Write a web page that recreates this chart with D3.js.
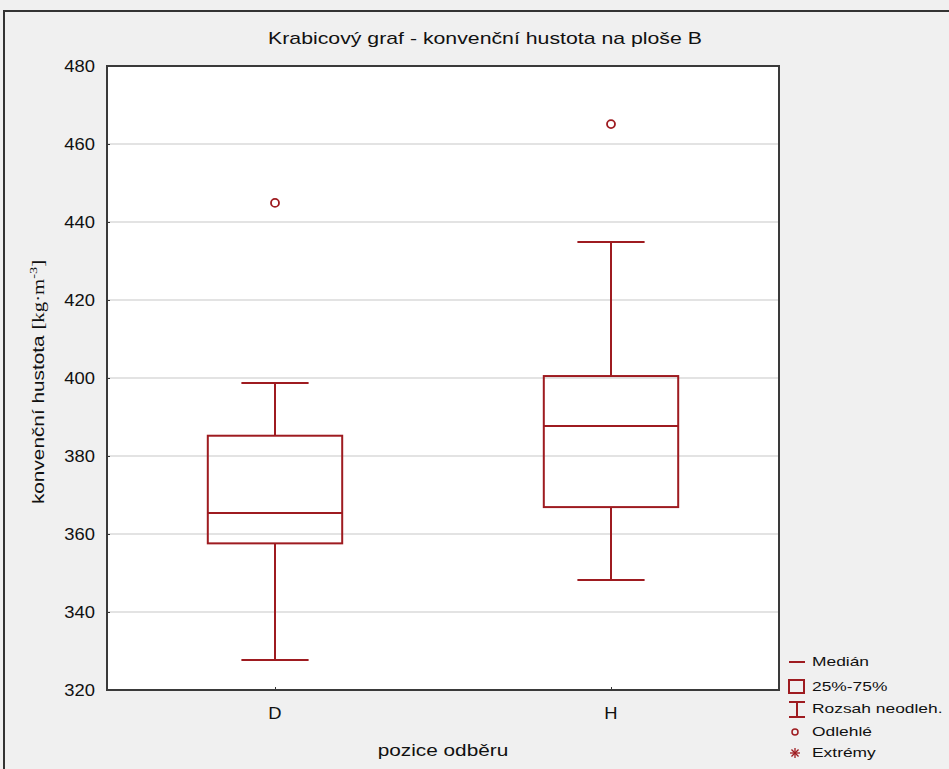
<!DOCTYPE html>
<html>
<head>
<meta charset="utf-8">
<script src="https://cdnjs.cloudflare.com/ajax/libs/d3/7.8.5/d3.min.js"></script>
<style>
  body { margin: 0; background: #f0f0f0; }
  text { font-family: "Liberation Sans", Arial, sans-serif; fill: #111; }
</style>
</head>
<body>
<svg id="chart" width="949" height="769"></svg>
<script>
// data
const categories = ["D", "H"];
const whiskerLow = [327.7, 348.2];
const q1 = [357.6, 366.9];
const median = [365.4, 387.7];
const q3 = [385.2, 400.5];
const whiskerHigh = [398.7, 434.9];
const outliers = [[444.9], [465.1]];
const yTicks = [320, 340, 360, 380, 400, 420, 440, 460, 480];
const legendLabels = ["Medián", "25%-75%", "Rozsah neodleh.", "Odlehlé", "Extrémy"];

const red = "#9e1b20";
const svg = d3.select("#chart");

const plot = { left: 107, top: 66, right: 779, bottom: 690 };

const x = d3.scalePoint()
    .domain(categories)
    .range([plot.left, plot.right])
    .padding(0.5);

const y = d3.scaleLinear()
    .domain([320, 480])
    .range([plot.bottom, plot.top]);

const step = x.step();
const boxW = step * 0.4;
const capW = step * 0.2;

// stretched text like the source image
function label(g, px, py, str, size, anchor, sx) {
    return g.append("text")
        .attr("transform", `translate(${px},${py}) scale(${sx || 1.2},1)`)
        .attr("text-anchor", anchor || "middle")
        .attr("font-size", size)
        .text(str);
}

// outer frame
svg.append("path")
    .attr("d", "M4,769 V11 H949")
    .attr("fill", "none")
    .attr("stroke", "#333")
    .attr("stroke-width", 2);

// plot background
svg.append("rect")
    .attr("x", plot.left).attr("y", plot.top)
    .attr("width", plot.right - plot.left).attr("height", plot.bottom - plot.top)
    .attr("fill", "#fff");

// grid
svg.append("g").selectAll("line")
    .data(yTicks.slice(1, -1))
    .join("line")
    .attr("x1", plot.left).attr("x2", plot.right)
    .attr("y1", d => y(d)).attr("y2", d => y(d))
    .attr("stroke", "#dadada")
    .attr("stroke-width", 1.5);

// axes (ticks inward)
const yAxis = svg.append("g")
    .attr("transform", `translate(${plot.left},0)`)
    .call(d3.axisLeft(y).tickValues(yTicks).tickSize(-3).tickFormat(""));
yAxis.select(".domain").remove();
yAxis.selectAll("line").attr("stroke", "#333");

const xAxis = svg.append("g")
    .attr("transform", `translate(0,${plot.bottom})`)
    .call(d3.axisBottom(x).tickSize(-3).tickFormat(""));
xAxis.select(".domain").remove();
xAxis.selectAll("line").attr("stroke", "#333");

yTicks.forEach(t => label(svg, 95, y(t) + 6, t, 16, "end", 1.15));
categories.forEach(c => label(svg, x(c), 719, c, 16, "middle", 1.15));

// boxes
const boxes = svg.append("g")
    .attr("fill", "none")
    .attr("stroke", red)
    .attr("stroke-width", 2);

categories.forEach((c, i) => {
    const cx = x(c);
    boxes.append("line")
        .attr("x1", cx).attr("x2", cx)
        .attr("y1", y(whiskerHigh[i])).attr("y2", y(q3[i]));
    boxes.append("line")
        .attr("x1", cx).attr("x2", cx)
        .attr("y1", y(q1[i])).attr("y2", y(whiskerLow[i]));
    [whiskerHigh[i], whiskerLow[i]].forEach(v => {
        boxes.append("line")
            .attr("x1", cx - capW / 2).attr("x2", cx + capW / 2)
            .attr("y1", y(v)).attr("y2", y(v));
    });
    boxes.append("rect")
        .attr("x", cx - boxW / 2).attr("width", boxW)
        .attr("y", y(q3[i])).attr("height", y(q1[i]) - y(q3[i]));
    boxes.append("line")
        .attr("x1", cx - boxW / 2).attr("x2", cx + boxW / 2)
        .attr("y1", y(median[i])).attr("y2", y(median[i]));
    outliers[i].forEach(v => {
        boxes.append("circle")
            .attr("cx", cx).attr("cy", y(v)).attr("r", 4)
            .attr("stroke-width", 1.8);
    });
});

// plot border
svg.append("rect")
    .attr("x", plot.left).attr("y", plot.top)
    .attr("width", plot.right - plot.left).attr("height", plot.bottom - plot.top)
    .attr("fill", "none")
    .attr("stroke", "#3a3a3a")
    .attr("stroke-width", 2);

// titles
label(svg, 485, 44, "Krabicový graf - konvenční hustota na ploše B", 16, "middle", 1.33);
label(svg, 443, 756, "pozice odběru", 16, "middle", 1.3);

const yl = svg.append("text")
    .attr("transform", `translate(44,382) rotate(-90) scale(1.3,1)`)
    .attr("text-anchor", "middle")
    .attr("font-size", 16);
yl.append("tspan").text("konvenční hustota ");
yl.append("tspan").attr("font-family", "Liberation Serif, serif").text("[kg·m");
yl.append("tspan").attr("font-family", "Liberation Serif, serif")
    .attr("font-size", 11).attr("dy", -7).text("-3");
yl.append("tspan").attr("font-family", "Liberation Serif, serif").attr("dy", 7).text("]");

// legend
const leg = svg.append("g");
const legY = [662, 687, 709, 732, 753];
legendLabels.forEach((t, i) => label(leg, 812, legY[i] + 4, t, 12, "start", 1.45));

const ls = leg.append("g").attr("fill", "none").attr("stroke", red).attr("stroke-width", 2);
ls.append("line").attr("x1", 789).attr("x2", 805).attr("y1", legY[0]).attr("y2", legY[0]);
ls.append("rect").attr("x", 789).attr("y", 680).attr("width", 15).attr("height", 13);
ls.append("line").attr("x1", 789).attr("x2", 805).attr("y1", 702).attr("y2", 702);
ls.append("line").attr("x1", 789).attr("x2", 805).attr("y1", 717).attr("y2", 717);
ls.append("line").attr("x1", 797).attr("x2", 797).attr("y1", 702).attr("y2", 717);
ls.append("circle").attr("cx", 795).attr("cy", legY[3]).attr("r", 3).attr("stroke-width", 1.5);
const ast = ls.append("g").attr("transform", `translate(795,${legY[4]})`).attr("stroke-width", 1.3);
[0, 45, 90, 135].forEach(a => {
    ast.append("line").attr("x1", -5).attr("x2", 5).attr("y1", 0).attr("y2", 0)
        .attr("transform", `rotate(${a})`);
});
</script>
</body>
</html>
